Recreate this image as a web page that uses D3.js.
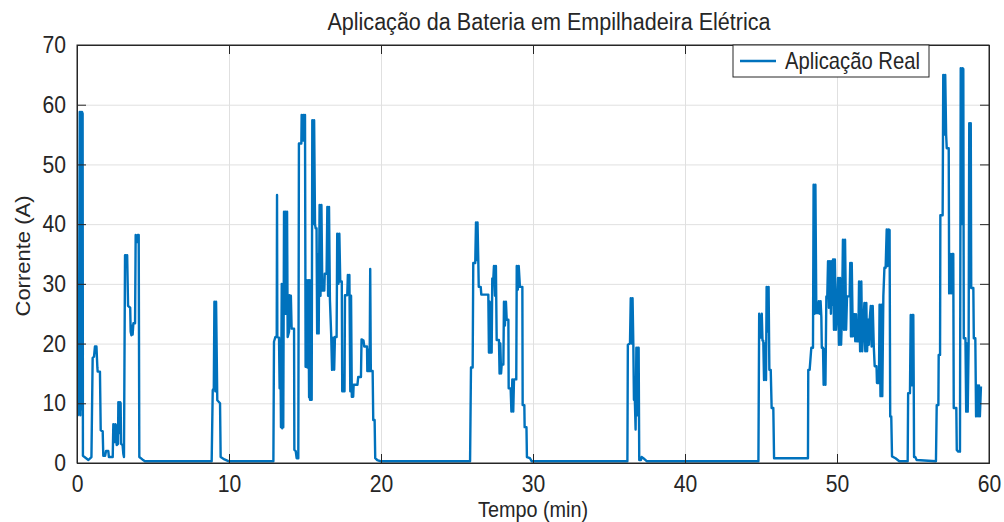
<!DOCTYPE html>
<html><head><meta charset="utf-8">
<script src="https://cdn.jsdelivr.net/npm/d3@7"></script>
<style>
html,body{margin:0;padding:0;background:#fff;}
svg text{font-family:"Liberation Sans",Arial,Helvetica,sans-serif;fill:#262626;}
</style></head>
<body><svg id="c" width="1004" height="522"></svg>
<script>
const title = "Aplicação da Bateria em Empilhadeira Elétrica";
const xLabel = "Tempo (min)";
const yLabel = "Corrente (A)";
const legendLabel = "Aplicação Real";
const xTicks = [0, 10, 20, 30, 40, 50, 60];
const yTicks = [0, 10, 20, 30, 40, 50, 60, 70];

const tempo = [
 0.00,0.05,0.12,0.18,0.22,0.26,0.30,0.33,0.37,0.39,0.6,0.75,0.95,1.03,1.12,1.18,1.28,1.34,1.36,1.51,1.56,1.69,1.73,1.85,1.91,2.06,2.1,2.35,2.39,2.47,2.53,2.57,2.61,2.7,2.72,2.79,2.84,2.87,2.9,3.0,3.05,3.09,3.16,3.22,3.27,3.3,3.36,3.5,3.53,3.58,3.63,3.66,3.71,3.82,3.86,3.94,4.0,4.06,4.1,4.3,4.47,8.86,8.93,9.0,9.04,9.1,9.15,9.23,9.41,9.45,9.7,9.96,
 12.92,12.96,13.05,13.14,13.16,13.18,13.29,13.33,13.4,13.42,13.47,13.5,13.55,13.57,13.62,13.68,13.72,13.78,13.82,13.86,13.95,13.97,14.02,14.07,14.12,14.28,14.3,14.39,14.45,14.56,14.6,14.76,14.78,14.85,14.9,14.95,15.0,15.04,15.11,15.16,15.22,15.27,15.31,15.33,15.44,15.48,15.55,15.6,15.66,15.7,15.76,15.8,15.86,15.9,15.96,16.02,16.08,16.14,16.27,16.3,16.42,16.47,16.52,16.58,16.64,16.72,16.78,16.86,16.92,16.97,17.08,17.12,17.2,17.26,17.32,17.42,17.45,17.6,17.63,17.78,17.82,17.88,17.92,17.98,18.03,18.08,18.17,18.2,18.45,18.5,18.68,18.72,18.85,18.9,19.08,19.1,19.14,19.18,19.25,19.29,19.33,19.45,19.49,19.58,19.62,19.75,19.95,
 25.86,25.92,26.03,26.07,26.2,26.25,26.3,26.35,26.4,26.43,26.56,26.6,27.06,27.1,27.15,27.2,27.28,27.32,27.39,27.43,27.5,27.56,27.61,27.76,27.8,27.85,27.9,27.94,28.05,28.09,28.15,28.22,28.27,28.38,28.4,28.53,28.58,28.64,28.7,28.75,28.9,28.93,29.0,29.06,29.14,29.3,29.32,29.43,29.45,29.57,29.6,29.8,29.91,
 36.21,36.24,36.38,36.43,36.5,36.55,36.6,36.64,36.7,36.75,36.8,36.86,36.9,36.95,36.99,37.1,37.15,37.26,37.48,
 44.83,44.88,44.98,45.05,45.1,45.15,45.2,45.26,45.33,45.37,45.44,45.5,45.55,45.64,45.7,45.81,45.86,
 48.09,48.11,48.2,48.31,48.42,48.46,48.52,48.58,48.64,48.75,48.8,48.85,48.92,48.97,49.0,49.08,49.12,49.18,49.24,49.3,49.36,49.41,49.47,49.53,49.6,49.66,49.69,49.74,49.8,49.86,49.93,50.0,50.07,50.13,50.2,50.27,50.33,50.39,50.46,50.53,50.6,50.66,50.83,50.87,50.92,50.97,51.04,51.1,51.16,51.2,51.25,51.3,51.4,51.45,51.52,51.6,51.66,51.72,51.8,51.86,51.93,51.98,52.05,52.1,52.15,52.22,52.28,52.35,52.42,52.48,52.6,52.63,52.76,52.8,52.86,52.92,52.98,53.05,53.12,53.2,53.27,53.33,53.4,53.46,53.5,53.57,53.62,53.85,54.1,
 54.65,54.68,54.8,54.85,54.92,54.97,55.02,55.05,55.07,55.15,55.24,56.51,
 56.56,56.67,56.69,56.78,56.8,56.95,56.99,57.06,57.12,57.18,57.22,57.35,57.38,57.45,57.52,57.58,57.65,57.68,57.85,57.88,57.98,58.09,58.14,58.2,58.26,58.31,58.34,58.45,58.5,58.55,58.6,58.66,58.7,58.75,58.8,58.83,58.97,59.0,59.1,59.15,59.22,59.28,59.34,59.4,59.47
];
const corrente = [
 8.0,8.0,8.5,58.8,8,58.8,9,58.8,58.5,1.2,0.8,0.5,1.0,17.6,17.8,19.5,19.5,16,15.3,15.3,5.5,5.3,1.2,1.2,2.0,2.0,1.0,1.0,6.5,3.5,6.5,6.3,3.0,3.2,10.2,5,10.2,10,3.2,3.0,1.5,1.0,34.8,34.8,33.5,34.8,26.3,26,22,21.4,23,21.5,23.4,23.4,38.2,37,38.2,38.2,1.0,0.6,0.3,0.3,12.2,12.5,27,12,27,10.5,10,1.0,0.6,0.3,
 0.3,20.3,21.1,21.1,44.9,21.1,21,12.5,12.5,6,30,5.8,30,6,42.1,25,42.1,25,42.1,21.1,22,28.1,23,28,22.5,22.5,2.2,2.0,0.8,0.8,53.5,53.5,58.3,54,58.3,54,58.3,16.1,30.6,16,30.6,11,30.6,10.6,10.6,57.4,40,57.4,40,39.3,39.3,21.7,35,21.7,43.2,28,43.2,28.9,28.9,31.7,31.7,42.9,28,42.9,27.3,21.7,15.6,21,15.6,21.1,21.1,38.4,30,38.4,30.4,30.4,12.0,12,28.1,28.1,31.5,28.5,31.5,12,28,11.1,11.1,13.1,13.1,14.4,14.4,20.7,20.5,19.5,19.5,15.4,19,15.4,15.4,32.5,15.4,15.4,7.2,7.2,0.8,0.5,0.3,
 0.3,16,16,33.5,33.5,40.3,34,40.3,34,29.5,29.5,28.2,28.2,18.5,27,18.5,18.5,30.9,30.9,33,28,33,20.6,20.6,15,20,15,16.5,16.5,27,23,27,24,24,12.5,12.5,8.6,14,8.6,14,14,33,29,33,29.5,29.5,9.7,9.7,6,6,1,0.8,0.3,
 0.3,19.8,20,27.6,20,27.6,20,10.6,10.6,5.6,19.3,8,19.3,19.3,0.5,0.5,1.0,0.8,0.3,
 0.3,25,21,25,20.5,20.5,13.9,20,13.9,29.5,22,29.5,15.6,15.6,9.2,9.2,0.8,
 0.8,15.6,15.6,19.3,19.3,46.6,25,46.6,25.1,25.1,27.1,25,27.1,24.5,19.3,19.3,13.1,19,13.1,27.9,27.9,33.8,26,33.8,25,33.8,26.5,34.1,22.3,34.1,22.3,25,31,19.8,31,19.8,25,37.4,22.3,37.4,22.3,27.9,27.9,33.5,21.2,33.5,21.2,24.9,24.9,20.4,24.9,20.4,20.4,30.4,18.7,30.4,18.7,22,26.8,18.7,26.8,18.7,24,19.8,24,26.3,19.5,26.3,19.5,16.2,16.2,13.4,13.4,26.5,11.2,26.5,11.2,28,32.7,32.7,39.1,33,39.1,39,7.8,7.8,1.1,0.8,0.3,
 0.3,11.7,11.7,24.8,13,24.8,24.8,12,1,1,0.5,0.3,
 9.7,9.7,18.1,18.1,41.5,41.5,65,55,65,55,52.7,52.7,28.4,35,28.4,35,35,9.2,9.2,2.2,1.9,1.9,66.1,40,66.1,66,20.9,20.9,8.6,20,8.6,20,56.9,30,56.9,29.3,29.3,20.9,20.9,7.8,13,7.8,13,7.8,12.8
];

const data = tempo.map((t, i) => ({t, v: corrente[i]}));

const L = 77, R = 989, T = 45, B = 463;
const SX = 0.88; // horizontal squeeze of the glyphs in the reference
const svg = d3.select("#c");
const x = d3.scaleLinear().domain([0, 60]).range([L, R]);
const y = d3.scaleLinear().domain([0, 70]).range([B, T]);
const W = R - L, H = B - T;

// grid
const gx = svg.append("g").attr("transform", `translate(0,${B})`)
  .call(d3.axisBottom(x).tickValues(xTicks).tickSize(-H).tickFormat(""));
const gy = svg.append("g").attr("transform", `translate(${L},0)`)
  .call(d3.axisLeft(y).tickValues(yTicks).tickSize(-W).tickFormat(""));
[gx, gy].forEach(g => { g.select(".domain").remove(); g.selectAll("line").attr("stroke", "#e0e0e0").attr("stroke-width", 1); });

// data line
svg.append("defs").append("clipPath").attr("id", "clip")
  .append("rect").attr("x", L).attr("y", T).attr("width", W).attr("height", H);
const line = d3.line().x(d => x(d.t)).y(d => y(d.v));
svg.append("path").datum(data).attr("d", line)
  .attr("fill", "none").attr("stroke", "#0072BD").attr("stroke-width", 2.4)
  .attr("stroke-linejoin", "round").attr("clip-path", "url(#clip)");

// axes with inward ticks
const tk = 9;
const axB = svg.append("g").attr("transform", `translate(0,${B})`)
  .call(d3.axisBottom(x).tickValues(xTicks).tickSize(-tk).tickPadding(12));
const axT = svg.append("g").attr("transform", `translate(0,${T})`)
  .call(d3.axisTop(x).tickValues(xTicks).tickSize(-tk).tickFormat(""));
const axL = svg.append("g").attr("transform", `translate(${L},0)`)
  .call(d3.axisLeft(y).tickValues(yTicks).tickSize(-tk).tickPadding(12));
const axR = svg.append("g").attr("transform", `translate(${R},0)`)
  .call(d3.axisRight(y).tickValues(yTicks).tickSize(-tk).tickFormat(""));
[axB, axT, axL, axR].forEach(g => {
  g.selectAll(".domain").attr("stroke", "#262626");
  g.selectAll("line").attr("stroke", "#262626");
  g.selectAll("text").attr("font-size", 24).attr("fill", "#262626")
    .style("font-family", '"Liberation Sans", Arial, sans-serif');
});
axB.selectAll("text").attr("transform", `scale(${SX},1)`);
axL.selectAll("text").attr("transform", `scale(${SX},1)`).attr("x", -11 / SX);
svg.append("rect").attr("x", L).attr("y", T).attr("width", W).attr("height", H)
  .attr("fill", "none").attr("stroke", "#262626").attr("stroke-width", 1);

// labels
svg.append("text").attr("transform", `translate(${(L + R) / 2 + 16},30) scale(${SX},1)`)
  .attr("text-anchor", "middle").attr("font-size", 24.5).text(title);
svg.append("text").attr("transform", `translate(${(L + R) / 2},517) scale(${SX},1)`)
  .attr("text-anchor", "middle").attr("font-size", 22.5).text(xLabel);
svg.append("text").attr("transform", `translate(30,${(T + B) / 2 + 2}) rotate(-90) scale(1,${SX})`)
  .attr("text-anchor", "middle").attr("font-size", 22).text(yLabel);

// legend
const lg = svg.append("g");
lg.append("rect").attr("x", 733).attr("y", T).attr("width", 196).attr("height", 32)
  .attr("fill", "#fff").attr("stroke", "#262626").attr("stroke-width", 1);
lg.append("line").attr("x1", 740).attr("x2", 776).attr("y1", T + 16).attr("y2", T + 16)
  .attr("stroke", "#0072BD").attr("stroke-width", 2.4);
lg.append("text").attr("transform", `translate(785,${T + 24}) scale(${SX},1)`)
  .attr("font-size", 23).text(legendLabel);
</script></body></html>
